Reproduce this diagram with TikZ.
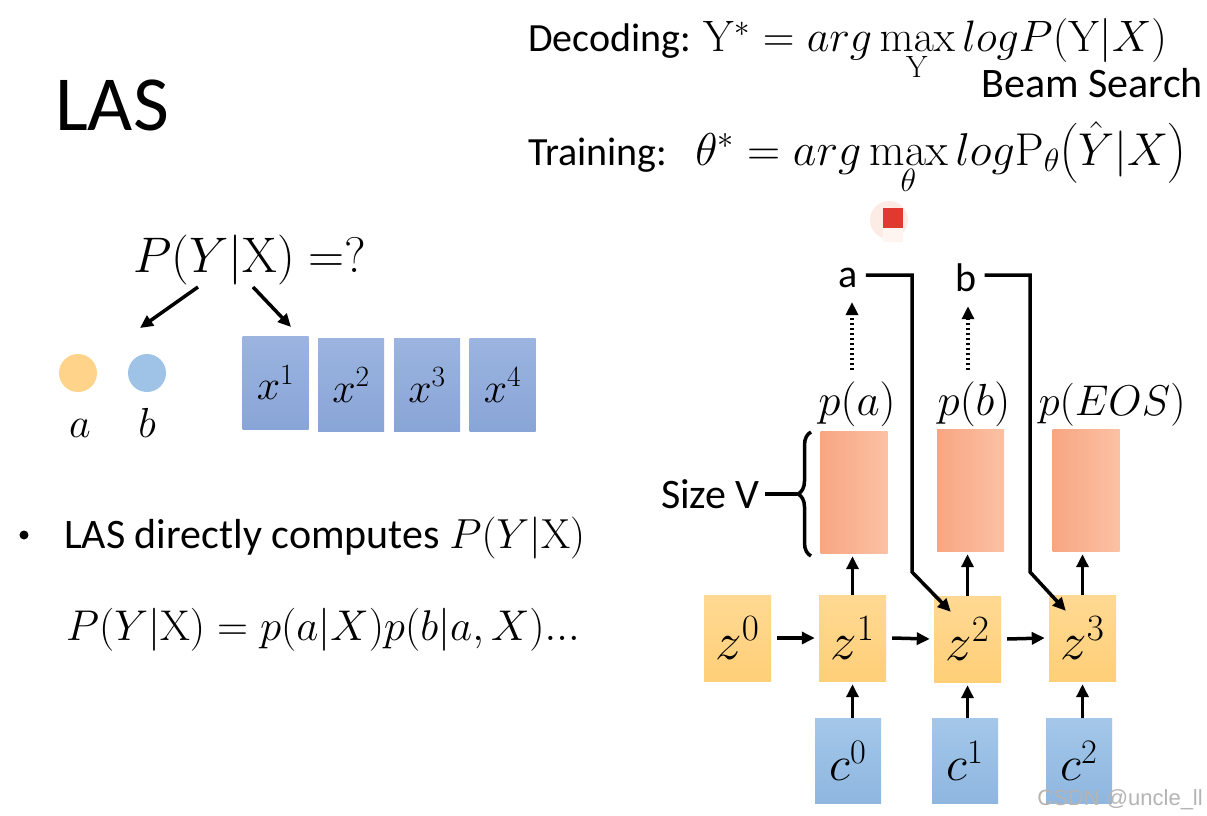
\documentclass[tikz,border=0pt]{standalone}
\usepackage{fix-cm}
\usepackage[no-math]{fontspec}
\setmainfont{Carlito}
\newfontfamily\wmfont{Liberation Sans}
\usepackage{amsmath}
\usetikzlibrary{arrows.meta,decorations.pathreplacing}
\definecolor{zA}{HTML}{FFD993}
\definecolor{zB}{HTML}{FFCF78}
\definecolor{cA}{HTML}{A4C7E9}
\definecolor{cB}{HTML}{8EB6E0}
\definecolor{xA}{HTML}{9BB4E0}
\definecolor{xB}{HTML}{89A5D7}
\definecolor{sA}{HTML}{F8A682}
\definecolor{sB}{HTML}{FBC1A4}
\definecolor{dotA}{HTML}{FFD48A}
\definecolor{dotB}{HTML}{9EC3E6}
\definecolor{wm}{HTML}{B4B4B4}
\definecolor{redmark}{HTML}{E0392F}
\definecolor{pinkmark}{HTML}{FDECE6}
\tikzset{
  conn/.style={line width=3.5pt,-{Triangle[length=13pt,width=12pt]}},
  plainline/.style={line width=3.5pt},
  dotconn/.style={line width=4pt,dash pattern=on 2.5pt off 2.5pt,-{Triangle[length=13pt,width=12pt]}},
  zbox/.style={minimum width=67pt,minimum height=86pt,top color=zA,bottom color=zB,inner sep=0pt,font=\fontsize{53}{60}\selectfont},
  cbox/.style={minimum width=66pt,minimum height=85pt,top color=cA,bottom color=cB,inner sep=0pt,font=\fontsize{49}{56}\selectfont},
  xbox/.style={minimum width=66pt,minimum height=93pt,top color=xA,bottom color=xB,inner sep=0pt,font=\fontsize{42}{48}\selectfont},
  sbox/.style={minimum width=67pt,minimum height=122pt,left color=sA,right color=sB,inner sep=0pt},
  txt/.style={inner sep=0pt,anchor=base west},
  bigtxt/.style={txt,font=\fontsize{40}{46}\selectfont},
  plab/.style={inner sep=0pt,anchor=base,font=\fontsize{45}{50}\selectfont},
}
\newcommand{\mathbig}[2]{{\fontsize{#1}{50}\selectfont #2}}
\begin{document}
\begin{tikzpicture}[x=1pt,y=-1pt]
\useasboundingbox[fill=white] (0,0) rectangle (1207,816);

% title
\node[txt,font=\fontsize{78}{84}\selectfont] (title) at (55,130) {LAS};

% formulas top right
\node[bigtxt] (dec) at (528,52) {Decoding: \mathbig{44}{$\mathrm{Y}^{*} = arg\displaystyle\max_{\mathrm{Y}} logP(\mathrm{Y}|X)$}};
\node[inner sep=0pt,anchor=base east,font=\fontsize{42}{46}\selectfont] (beam) at (1203,97) {Beam Search};
\node[bigtxt] (train) at (528,165) {Training:\hspace{28pt}\mathbig{46}{$\theta^{*} = arg\displaystyle\max_{\theta} log\mathrm{P}_{\theta}\bigl(\hat{Y}|X\bigr)$}};

% red mark
\fill[pinkmark] (889,220) circle (19);
\fill[pinkmark!60!white] (883,228) rectangle (903,242);
\fill[redmark] (883,208) rectangle (903,228);

% left part
\node[txt,font=\fontsize{50}{56}\selectfont] (pyx) at (133,272) {$P(Y|\mathrm{X})\;{=}?$};
\node[circle,minimum size=38pt,inner sep=0pt,fill=dotA] (ca) at (78,373) {};
\node[circle,minimum size=38pt,inner sep=0pt,fill=dotB] (cb) at (147,373) {};
\node[inner sep=0pt,font=\fontsize{42}{48}\selectfont,anchor=base] (la) at (80,437) {$a$};
\node[inner sep=0pt,font=\fontsize{42}{48}\selectfont,anchor=base] (lb) at (147,437) {$b$};
\node[xbox] (x1) at (275.5,382.5) {$x^{1}$};
\node[xbox] (x2) at (351,385) {$x^{2}$};
\node[xbox] (x3) at (427,385) {$x^{3}$};
\node[xbox] (x4) at (502.5,385) {$x^{4}$};
\coordinate (pl) at (198,287);
\coordinate (pr) at (253,287);
\coordinate (tl) at (140,328);
\coordinate (tr) at (291,327);
\draw[conn] (pl) -- (tl);
\draw[conn] (pr) -- (tr);

% bullet text
\node[circle,fill=black,minimum size=9pt,inner sep=0pt] (bul) at (24,535) {};
\node[txt,font=\fontsize{42}{46}\selectfont] (las) at (64,548) {LAS directly computes \mathbig{42}{$P(Y|\mathrm{X})$}};
\node[txt,font=\fontsize{43}{50}\selectfont] (form) at (66,640) {$P(Y|\mathrm{X}) = p(a|X)p(b|a,X)...$};

% right diagram
\node[zbox] (z0) at (737.5,638) {$z^{0}$};
\node[zbox] (z1) at (852.5,638) {$z^{1}$};
\node[zbox] (z2) at (967.5,639) {$z^{2}$};
\node[zbox] (z3) at (1082.5,638) {$z^{3}$};
\node[cbox] (c0) at (848,761) {$c^{0}$};
\node[cbox] (c1) at (965,761) {$c^{1}$};
\node[cbox] (c2) at (1079,761) {$c^{2}$};
\node[sbox] (s1) at (854,492) {};
\node[sbox] (s2) at (970.5,490) {};
\node[sbox] (s3) at (1086,490) {};

\node[plab] (pa) at (857,415) {$p(a)$};
\node[plab] (pb) at (974,415) {$p(b)$};
\node[plab,font=\fontsize{43}{50}\selectfont] (pe) at (1112,415) {$p(EOS)$};

\node[inner sep=2pt,font=\fontsize{40}{44}\selectfont] (oa) at (848,278) {a};
\node[inner sep=2pt,font=\fontsize{40}{44}\selectfont] (ob) at (966,278) {b};

% horizontal arrows
\draw[conn] ([xshift=6pt]z0.east) -- ([xshift=-4pt]z1.west);
\draw[conn] ([xshift=6pt]z1.east) -- ([xshift=-4pt]z2.west);
\draw[conn] ([xshift=6pt]z2.east) -- ([xshift=-4pt]z3.west);

% c -> z
\draw[conn] (c0.north -| z1.south) -- ([yshift=-3pt]z1.south);
\draw[conn] (c1.north -| z2.south) -- ([yshift=-3pt]z2.south);
\draw[conn] (c2.north -| z3.south) -- ([yshift=-3pt]z3.south);

% z -> softmax
\draw[conn] (z1.north) -- ([yshift=-3pt]z1.north |- s1.south);
\draw[conn] (z2.north) -- ([yshift=-3pt]z2.north |- s2.south);
\draw[conn] (z3.north) -- ([yshift=-3pt]z3.north |- s3.south);

% dotted
\coordinate (da) at (852,370);
\coordinate (db) at (968,370);
\draw[dotconn] (da) -- ([yshift=-12pt]da |- oa.south);
\draw[dotconn] (db) -- ([yshift=-12pt]db |- ob.south);

% feedback lines
\coordinate (ta) at (912,275);
\coordinate (ba) at (912,572);
\coordinate (tb) at (1030,275);
\coordinate (bb) at (1030,572);
\draw[conn,line join=miter] ([xshift=6pt]oa.east |- ta) -- (ta) -- (ba) -- ([shift={(17,16)}]z2.north west);
\draw[conn,line join=miter] ([xshift=6pt]ob.east |- tb) -- (tb) -- (bb) -- ([shift={(17,16)}]z3.north west);

% brace
\draw[plainline,decorate,decoration={brace,amplitude=13pt}] (811,556) -- (811,432);
\coordinate (bt) at (797,494);
\draw[plainline] (bt) -- ++(-32,0) coordinate (bl);
\node[inner sep=0pt,anchor=east,font=\fontsize{42}{46}\selectfont] (size) at ([xshift=-5pt]bl) {Size V};

% watermark
\node[inner sep=0pt,anchor=base east,font=\wmfont\fontsize{22}{24}\selectfont,text=wm] (wmk) at (1203,805) {CSDN @uncle\_ll};
\end{tikzpicture}
\end{document}
